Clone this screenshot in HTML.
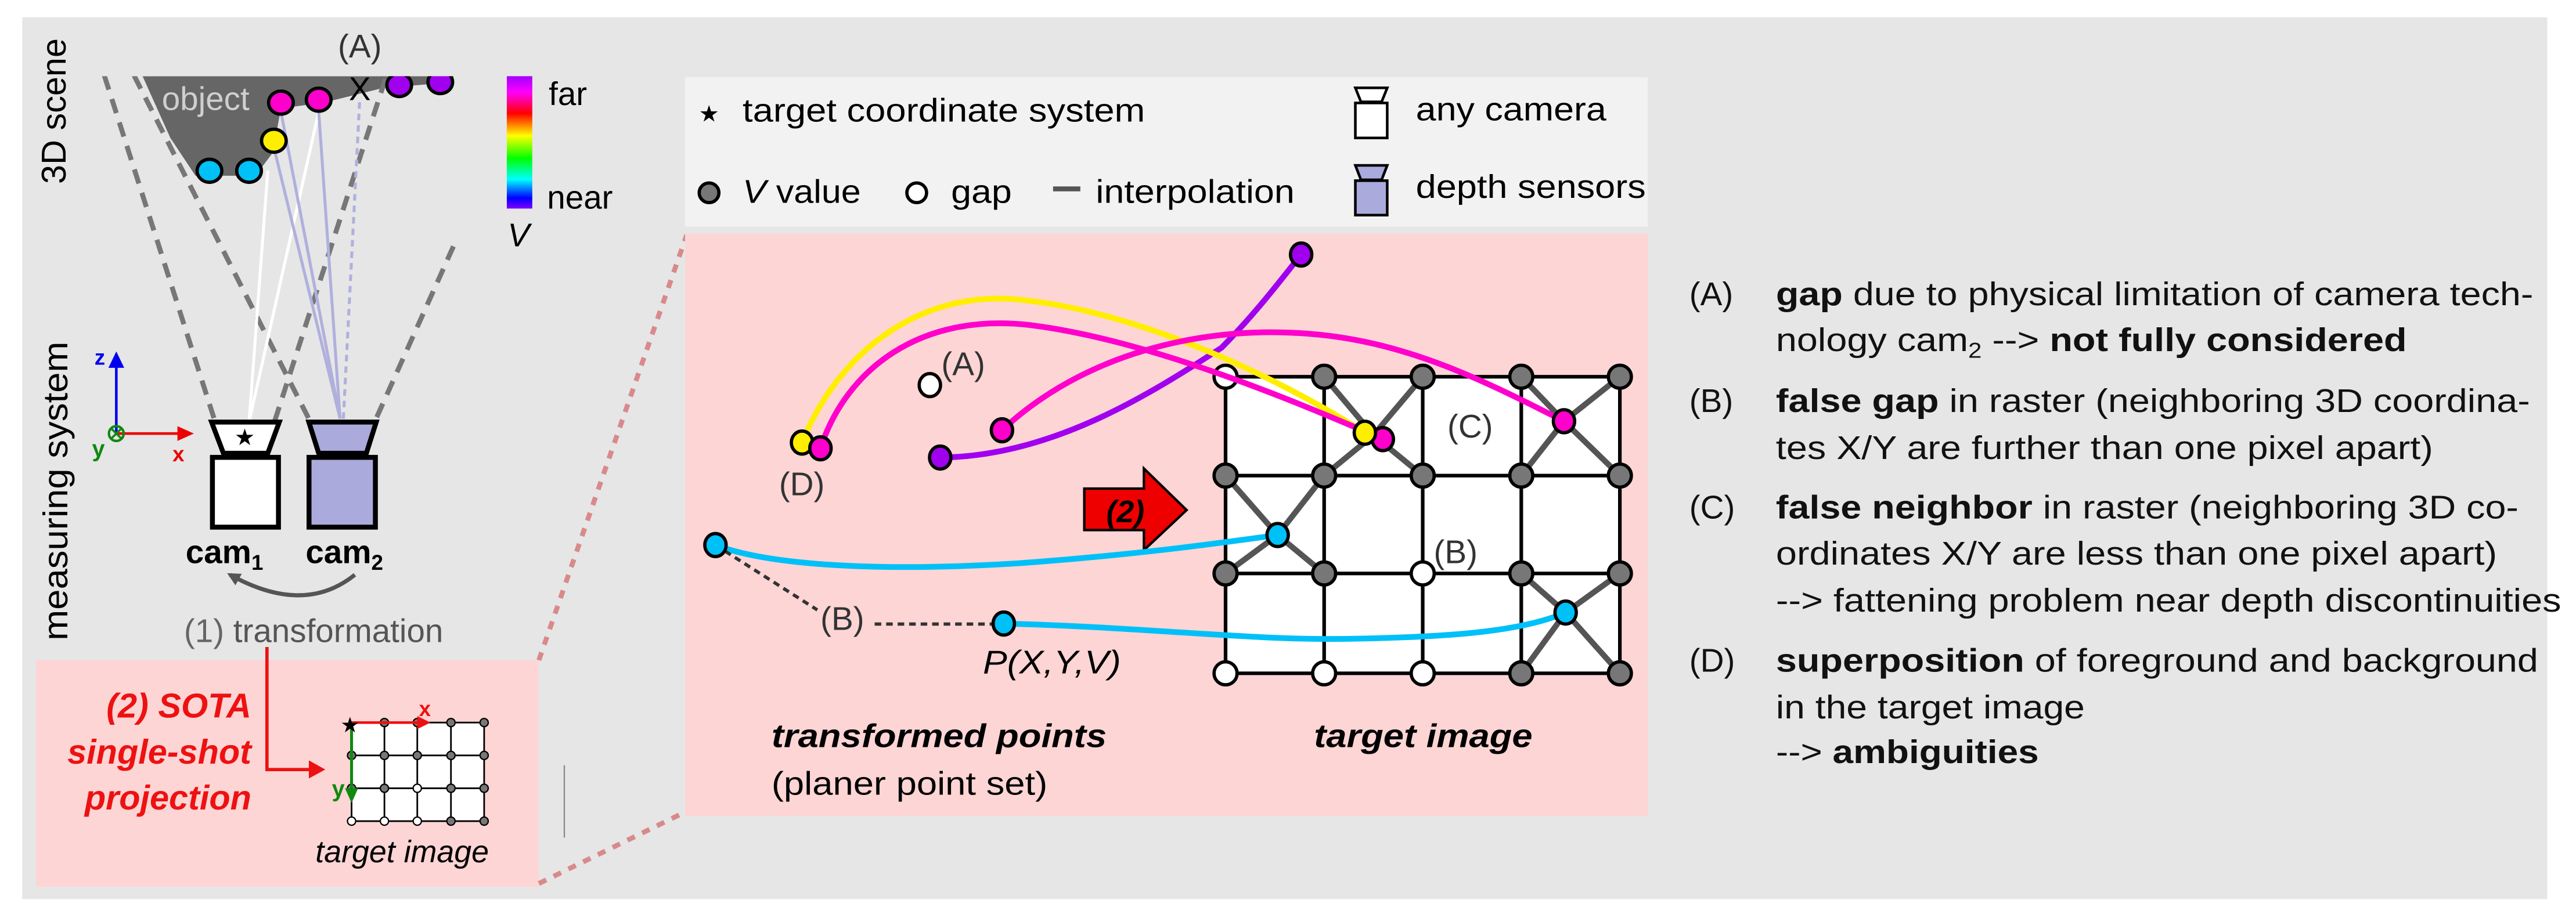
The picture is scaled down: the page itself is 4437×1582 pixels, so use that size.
<!DOCTYPE html>
<html><head><meta charset="utf-8"><style>html,body{margin:0;padding:0;background:#fff}svg{display:block}</style></head>
<body>
<svg xmlns="http://www.w3.org/2000/svg" width="4437" height="1582" viewBox="0 0 1568 559" preserveAspectRatio="none" font-family="'Liberation Sans Narrow','Liberation Sans',sans-serif">
<defs>
<linearGradient id="cb" x1="0" y1="0" x2="0" y2="1">
<stop offset="0" stop-color="#a000ff"/><stop offset="0.12" stop-color="#ff00ff"/><stop offset="0.28" stop-color="#ff0000"/><stop offset="0.45" stop-color="#ffff00"/><stop offset="0.62" stop-color="#00ff00"/><stop offset="0.78" stop-color="#00ffff"/><stop offset="0.92" stop-color="#0000ff"/><stop offset="1" stop-color="#8000ff"/>
</linearGradient>
<marker id="ah" markerWidth="8" markerHeight="8" refX="6" refY="4" orient="auto" markerUnits="userSpaceOnUse"><path d="M0,0 L8,4 L0,8 Z" fill="#555"/></marker>
</defs>
<rect x="13.5" y="10.5" width="1537" height="537" fill="#e6e6e6"/>

<!-- scene -->
<polygon points="86.8,46.4 276,46.4 276,50 233,53.6 197,62.5 171,66 166,93 155.5,107 119,107 103.7,84" fill="#666"/>
<text x="98.5" y="67" font-size="20" fill="#cfcfcf" font-family="'Liberation Sans',sans-serif">object</text>
<g stroke="#777" stroke-width="3" stroke-dasharray="9,6" fill="none">
<line x1="63.5" y1="46" x2="131" y2="257"/>
<line x1="81.6" y1="46" x2="189" y2="257"/>
<line x1="234.6" y1="48" x2="167" y2="257"/>
<line x1="276" y1="150" x2="228" y2="257"/>
</g>
<g stroke="#fff" stroke-width="1.8"><line x1="151.6" y1="257" x2="163" y2="104"/><line x1="151.6" y1="257" x2="194" y2="68"/></g>
<g stroke="#b0b0dd" stroke-width="1.8"><line x1="207" y1="255" x2="171" y2="68"/><line x1="207" y1="255" x2="167" y2="91"/><line x1="207" y1="255" x2="194" y2="68"/></g>
<line x1="209" y1="255" x2="219" y2="60" stroke="#b0b0dd" stroke-width="1.8" stroke-dasharray="4,3"/>
<g stroke="#000" stroke-width="2">
<ellipse cx="171" cy="62.5" rx="7.5" ry="7" fill="#ff00cc"/>
<ellipse cx="194" cy="60.7" rx="7.5" ry="7" fill="#ff00cc"/>
<ellipse cx="166.7" cy="85.7" rx="7.5" ry="7" fill="#ffee00"/>
<ellipse cx="127.5" cy="104" rx="7.5" ry="7" fill="#00c0f8"/>
<ellipse cx="151.6" cy="104" rx="7.5" ry="7" fill="#00c0f8"/>
<ellipse cx="243" cy="51.8" rx="7.5" ry="7" fill="#a000ee"/>
<ellipse cx="268" cy="50" rx="7.5" ry="7" fill="#a000ee"/>
</g>
<rect x="62" y="30" width="220" height="16.4" fill="#e6e6e6"/>
<text x="219" y="35" font-size="20" fill="#333" text-anchor="middle" font-family="'Liberation Sans',sans-serif">(A)</text>
<text x="219" y="61" font-size="20" fill="#000" text-anchor="middle" font-family="'Liberation Sans',sans-serif">X</text>
<rect x="308.5" y="46.4" width="15.5" height="80.6" fill="url(#cb)"/>
<text x="334" y="64" font-size="20" font-family="'Liberation Sans',sans-serif">far</text>
<text x="333" y="127" font-size="20" font-family="'Liberation Sans',sans-serif">near</text>
<text x="309" y="150" font-size="20" font-style="italic" font-family="'Liberation Sans',sans-serif">V</text>

<text transform="translate(40,112) rotate(-90)" font-size="21">3D scene</text>
<text transform="translate(41,390) rotate(-90)" font-size="21" textLength="182" lengthAdjust="spacingAndGlyphs">measuring system</text>

<!-- axes -->
<line x1="70.8" y1="264" x2="70.8" y2="222" stroke="#0000ee" stroke-width="1.6"/>
<path d="M66,224 L70.8,214 L75.6,224 Z" fill="#0000ee"/>
<text x="57.5" y="222" font-size="13" fill="#0000ee" font-weight="bold" font-family="'Liberation Sans',sans-serif">z</text>
<line x1="70.8" y1="264" x2="112" y2="264" stroke="#ee0000" stroke-width="1.6"/>
<path d="M108,259.5 L118,264 L108,268.5 Z" fill="#ee0000"/>
<text x="105" y="281" font-size="13" fill="#ee0000" font-weight="bold" font-family="'Liberation Sans',sans-serif">x</text>
<circle cx="70.8" cy="264" r="4.5" fill="none" stroke="#118811" stroke-width="1.5"/>
<path d="M67.6,260.8 L74,267.2 M74,260.8 L67.6,267.2" stroke="#118811" stroke-width="1.3"/>
<text x="56" y="278" font-size="14" fill="#118811" font-weight="bold" font-family="'Liberation Sans',sans-serif">y</text>

<!-- cameras -->
<polygon points="128.8,257 170,257 163,276 136,276" fill="#fff" stroke="#000" stroke-width="3"/>
<rect x="129.3" y="278.5" width="40.2" height="42.5" fill="#fff" stroke="#000" stroke-width="3"/>
<polygon points="188,257 229,257 223,276 194,276" fill="#aaaadd" stroke="#000" stroke-width="3"/>
<rect x="188.1" y="278.5" width="40.4" height="42.5" fill="#aaaadd" stroke="#000" stroke-width="3"/>
<text x="149" y="271" font-size="14" text-anchor="middle">★</text>
<text x="113" y="343" font-size="20" font-weight="bold" font-family="'Liberation Sans',sans-serif">cam<tspan font-size="13" dy="4">1</tspan></text>
<text x="186" y="343" font-size="20" font-weight="bold" font-family="'Liberation Sans',sans-serif">cam<tspan font-size="13" dy="4">2</tspan></text>
<path d="M216,350 Q185,375 140,350" fill="none" stroke="#555" stroke-width="2.5" marker-end="url(#ah)"/>
<text x="112" y="391" font-size="20" fill="#666" font-family="'Liberation Sans',sans-serif">(1) <tspan fill="#555">transformation</tspan></text>

<!-- left pink box -->
<rect x="22" y="402" width="306" height="138" fill="#fdd5d5"/>
<g font-family="'Liberation Sans',sans-serif" font-size="21" font-weight="bold" font-style="italic" fill="#ee1111" text-anchor="end">
<text x="153" y="437">(2) SOTA</text><text x="153" y="465">single-shot</text><text x="153" y="493">projection</text></g>
<path d="M162.5,394 V468.6 H190" fill="none" stroke="#ee1111" stroke-width="2"/>
<path d="M188,463 L198,468.6 L188,474 Z" fill="#ee1111"/>
<rect x="214.5" y="440.5" width="80" height="59" fill="#fff"/>
<g stroke="#000" stroke-width="1">
<line x1="214" y1="440" x2="294.7" y2="440"/><line x1="214" y1="460" x2="294.7" y2="460"/><line x1="214" y1="480" x2="294.7" y2="480"/><line x1="214" y1="500" x2="294.7" y2="500"/>
<line x1="214" y1="440" x2="214" y2="500"/><line x1="234" y1="440" x2="234" y2="500"/><line x1="254" y1="440" x2="254" y2="500"/><line x1="274.5" y1="440" x2="274.5" y2="500"/><line x1="294.7" y1="440" x2="294.7" y2="500"/>
</g>
<g stroke="#000" stroke-width="0.8" fill="#777">
<circle cx="234" cy="440" r="2.5"/><circle cx="254" cy="440" r="2.5"/><circle cx="274.5" cy="440" r="2.5"/><circle cx="294.7" cy="440" r="2.5"/>
<circle cx="214" cy="460" r="2.5"/><circle cx="234" cy="460" r="2.5"/><circle cx="254" cy="460" r="2.5"/><circle cx="274.5" cy="460" r="2.5"/><circle cx="294.7" cy="460" r="2.5"/>
<circle cx="214" cy="480" r="2.5"/><circle cx="234" cy="480" r="2.5"/><circle cx="254" cy="480" r="2.5" fill="#fff"/><circle cx="274.5" cy="480" r="2.5"/><circle cx="294.7" cy="480" r="2.5"/>
<circle cx="214" cy="500" r="2.5" fill="#fff"/><circle cx="234" cy="500" r="2.5" fill="#fff"/><circle cx="254" cy="500" r="2.5" fill="#fff"/><circle cx="274.5" cy="500" r="2.5"/><circle cx="294.7" cy="500" r="2.5"/>
</g>
<line x1="214" y1="440" x2="256" y2="440" stroke="#ee1111" stroke-width="1.6"/>
<path d="M254,436 L262,440 L254,444 Z" fill="#ee1111"/>
<text x="255" y="436" font-size="13" fill="#ee1111" font-weight="bold" font-family="'Liberation Sans',sans-serif">x</text>
<line x1="214" y1="440" x2="214" y2="482" stroke="#118811" stroke-width="1.8"/>
<path d="M210,480 L214,489 L218,480 Z" fill="#118811"/>
<text x="202" y="485" font-size="14" fill="#118811" font-weight="bold" font-family="'Liberation Sans',sans-serif">y</text>
<text x="213" y="446" font-size="13" text-anchor="middle">★</text>
<text x="192" y="525" font-size="19" font-style="italic" font-family="'Liberation Sans',sans-serif">target image</text>
<line x1="343.5" y1="466" x2="343.5" y2="510" stroke="#888" stroke-width="0.8"/>

<!-- dashed connectors -->
<g stroke="#d88a8a" stroke-width="3" stroke-dasharray="5,5" fill="none">
<line x1="328" y1="402" x2="418" y2="143"/>
<line x1="328" y1="538" x2="418" y2="494"/>
</g>

<!-- legend -->
<rect x="417" y="47" width="586" height="91" fill="#f2f2f2"/>
<text x="431.6" y="74" font-size="14" text-anchor="middle">★</text>
<text x="452" y="74" font-size="20" textLength="245" lengthAdjust="spacingAndGlyphs">target coordinate system</text>
<circle cx="431.6" cy="117.4" r="6" fill="#777" stroke="#000" stroke-width="2"/>
<text x="452" y="123.5" font-size="20" textLength="72" lengthAdjust="spacingAndGlyphs"><tspan font-style="italic">V</tspan> value</text>
<circle cx="558" cy="117.4" r="6" fill="#fff" stroke="#000" stroke-width="2"/>
<text x="578.9" y="123.5" font-size="20" textLength="37" lengthAdjust="spacingAndGlyphs">gap</text>
<line x1="641" y1="115" x2="657.6" y2="115" stroke="#555" stroke-width="3"/>
<text x="667" y="123.5" font-size="20" textLength="121" lengthAdjust="spacingAndGlyphs">interpolation</text>
<polygon points="825,53.5 844.4,53.5 841,62 828.4,62" fill="#fff" stroke="#000" stroke-width="1.6"/>
<rect x="825" y="62.7" width="19.4" height="21.3" fill="#fff" stroke="#000" stroke-width="1.6"/>
<text x="861.8" y="73.4" font-size="20" textLength="116" lengthAdjust="spacingAndGlyphs">any camera</text>
<polygon points="825,100.7 844.4,100.7 841,109.5 828.4,109.5" fill="#aaaadd" stroke="#000" stroke-width="1.6"/>
<rect x="825" y="110" width="19.4" height="21" fill="#aaaadd" stroke="#000" stroke-width="1.6"/>
<text x="861.8" y="120.5" font-size="20" textLength="140" lengthAdjust="spacingAndGlyphs">depth sensors</text>

<!-- main pink -->
<rect x="417" y="142.4" width="586" height="354.6" fill="#fdd5d5"/>
<rect x="746" y="229.4" width="240" height="180.6" fill="#fff"/>
<g stroke="#000" stroke-width="2.2">
<line x1="746" y1="229.4" x2="986" y2="229.4"/><line x1="746" y1="289.6" x2="986" y2="289.6"/><line x1="746" y1="349.2" x2="986" y2="349.2"/><line x1="746" y1="410" x2="986" y2="410"/>
<line x1="746" y1="229.4" x2="746" y2="410"/><line x1="806" y1="229.4" x2="806" y2="410"/><line x1="866" y1="229.4" x2="866" y2="410"/><line x1="926" y1="229.4" x2="926" y2="410"/><line x1="986" y1="229.4" x2="986" y2="410"/>
</g>
<g stroke="#555" stroke-width="3.5">
<line x1="806" y1="229.4" x2="836" y2="265"/><line x1="866" y1="229.4" x2="836" y2="265"/><line x1="806" y1="289.6" x2="836" y2="265"/><line x1="866" y1="289.6" x2="836" y2="265"/>
<line x1="926" y1="229.4" x2="952" y2="256.5"/><line x1="986" y1="229.4" x2="952" y2="256.5"/><line x1="926" y1="289.6" x2="952" y2="256.5"/><line x1="986" y1="289.6" x2="952" y2="256.5"/>
<line x1="746" y1="289.6" x2="777.7" y2="325.8"/><line x1="806" y1="289.6" x2="777.7" y2="325.8"/><line x1="746" y1="349.2" x2="777.7" y2="325.8"/><line x1="806" y1="349.2" x2="777.7" y2="325.8"/>
<line x1="926" y1="349.2" x2="953" y2="373"/><line x1="986" y1="349.2" x2="953" y2="373"/><line x1="926" y1="410" x2="953" y2="373"/><line x1="986" y1="410" x2="953" y2="373"/>
</g>
<g stroke="#000" stroke-width="2" fill="#777">
<circle cx="746" cy="229.4" r="7" fill="#fff"/><circle cx="806" cy="229.4" r="7"/><circle cx="866" cy="229.4" r="7"/><circle cx="926" cy="229.4" r="7"/><circle cx="986" cy="229.4" r="7"/>
<circle cx="746" cy="289.6" r="7"/><circle cx="806" cy="289.6" r="7"/><circle cx="866" cy="289.6" r="7"/><circle cx="926" cy="289.6" r="7"/><circle cx="986" cy="289.6" r="7"/>
<circle cx="746" cy="349.2" r="7"/><circle cx="806" cy="349.2" r="7"/><circle cx="866" cy="349.2" r="7" fill="#fff"/><circle cx="926" cy="349.2" r="7"/><circle cx="986" cy="349.2" r="7"/>
<circle cx="746" cy="410" r="7" fill="#fff"/><circle cx="806" cy="410" r="7" fill="#fff"/><circle cx="866" cy="410" r="7" fill="#fff"/><circle cx="926" cy="410" r="7"/><circle cx="986" cy="410" r="7"/>
</g>

<!-- arrow (2) -->
<polygon points="660,297.5 696.3,297.5 696.3,285.3 722.3,310.6 696.3,335 696.3,322.8 660,322.8" fill="#ee0000" stroke="#000" stroke-width="1.5"/>
<text x="685" y="318" font-size="19" font-weight="bold" font-style="italic" text-anchor="middle">(2)</text>

<!-- curves -->
<g fill="none" stroke-width="3.5">
<path d="M572.3,278.6 C640,278 700,240 743.6,211.7 C765,190 780,170 792,155" stroke="#a000ee"/>
<path d="M488.2,269.5 C510,215 560,175 623.5,182.8 C690,190 770,225 830.8,263.5" stroke="#ffee00"/>
<path d="M499.4,273 C515,225 560,190 627.3,198 C700,207 790,245 841.7,267.4" stroke="#ff00cc"/>
<path d="M609.9,262 C660,215 730,200 786,202.6 C850,205 900,230 952,256.5" stroke="#ff00cc"/>
<path d="M435.5,331.9 C470,345 540,348 620,343 C690,338 740,331 777.7,325.8" stroke="#00c0f8"/>
<path d="M611,379.7 C700,382 760,390 820,389 C880,388 925,385 953,373" stroke="#00c0f8"/>
</g>
<g stroke="#333" stroke-width="2" stroke-dasharray="4,3"><line x1="435.5" y1="331.9" x2="497.5" y2="371.4"/><line x1="532.4" y1="380" x2="604" y2="380"/></g>
<g stroke="#000" stroke-width="2">
<ellipse cx="488.2" cy="269.5" rx="6.5" ry="7" fill="#ffee00"/>
<ellipse cx="499.4" cy="273" rx="6.5" ry="7" fill="#ff00cc"/>
<ellipse cx="609.9" cy="262" rx="6.5" ry="7" fill="#ff00cc"/>
<ellipse cx="572.3" cy="278.6" rx="6.5" ry="7" fill="#a000ee"/>
<ellipse cx="792" cy="155" rx="6.5" ry="7" fill="#a000ee"/>
<ellipse cx="566" cy="234.5" rx="6.5" ry="7" fill="#fff"/>
<ellipse cx="841.7" cy="267.4" rx="6.5" ry="7" fill="#ff00cc"/>
<ellipse cx="830.8" cy="263.5" rx="6.5" ry="7" fill="#ffee00"/>
<ellipse cx="952" cy="256.5" rx="6.5" ry="7" fill="#ff00cc"/>
<ellipse cx="777.7" cy="325.8" rx="6.5" ry="7" fill="#00c0f8"/>
<ellipse cx="953" cy="373" rx="6.5" ry="7" fill="#00c0f8"/>
<ellipse cx="435.5" cy="331.9" rx="6.5" ry="7" fill="#00c0f8"/>
<ellipse cx="611" cy="379.7" rx="6.5" ry="7" fill="#00c0f8"/>
</g>
<g font-size="20" fill="#333">
<text x="573" y="228.5">(A)</text><text x="474.2" y="301.5">(D)</text><text x="881" y="266.5">(C)</text><text x="872.7" y="343">(B)</text><text x="499.4" y="383.6">(B)</text>
</g>
<text x="598.3" y="410" font-size="20" font-style="italic" textLength="84" lengthAdjust="spacingAndGlyphs">P(X,Y,V)</text>
<text x="469.6" y="455" font-size="20" font-weight="bold" font-style="italic" textLength="204" lengthAdjust="spacingAndGlyphs">transformed points</text>
<text x="469.6" y="484" font-size="20" textLength="168" lengthAdjust="spacingAndGlyphs">(planer point set)</text>
<text x="799.8" y="455" font-size="20" font-weight="bold" font-style="italic" textLength="133" lengthAdjust="spacingAndGlyphs">target image</text>

<!-- explanations -->
<g font-size="20" fill="#111">
<text x="1028.3" y="185.9">(A)</text><text x="1028.3" y="250.9">(B)</text><text x="1028.3" y="315.7">(C)</text><text x="1028.3" y="409">(D)</text>
<text x="1081" y="185.9" textLength="461" lengthAdjust="spacingAndGlyphs"><tspan font-weight="bold">gap</tspan> due to physical limitation of camera tech-</text>
<text x="1081" y="213.8" textLength="384" lengthAdjust="spacingAndGlyphs">nology cam<tspan font-size="13" dy="4">2</tspan><tspan dy="-4"> --&gt; </tspan><tspan font-weight="bold">not fully considered</tspan></text>
<text x="1081" y="250.9" textLength="459" lengthAdjust="spacingAndGlyphs"><tspan font-weight="bold">false gap</tspan> in raster (neighboring 3D coordina-</text>
<text x="1081" y="279.5" textLength="400" lengthAdjust="spacingAndGlyphs">tes X/Y are further than one pixel apart)</text>
<text x="1081" y="315.7" textLength="452" lengthAdjust="spacingAndGlyphs"><tspan font-weight="bold">false neighbor</tspan> in raster (neighboring 3D co-</text>
<text x="1081" y="343.8" textLength="439" lengthAdjust="spacingAndGlyphs">ordinates X/Y are less than one pixel apart)</text>
<text x="1081" y="372.5" textLength="478" lengthAdjust="spacingAndGlyphs">--&gt; fattening problem near depth discontinuities</text>
<text x="1081" y="409" textLength="464" lengthAdjust="spacingAndGlyphs"><tspan font-weight="bold">superposition</tspan> of foreground and background</text>
<text x="1081" y="437.5" textLength="188" lengthAdjust="spacingAndGlyphs">in the target image</text>
<text x="1081" y="464.7" textLength="160" lengthAdjust="spacingAndGlyphs">--&gt; <tspan font-weight="bold">ambiguities</tspan></text>
</g>
</svg>
</body></html>
